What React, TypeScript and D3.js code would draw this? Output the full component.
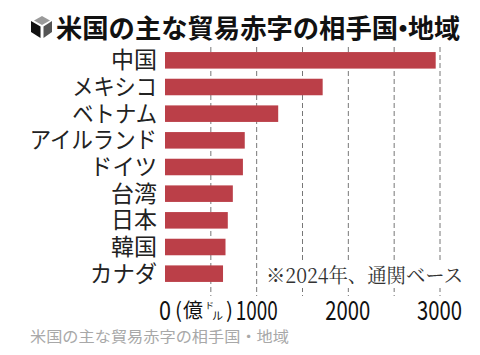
import React from "react";
import * as d3 from "d3";

const categories = ["中国", "メキシコ", "ベトナム", "アイルランド", "ドイツ", "台湾", "日本", "韓国", "カナダ"];
const values = [2953, 1720, 1235, 870, 850, 740, 685, 660, 633];
const gridValues = [500, 1000, 1500, 2000, 2500, 3000];
const tickValues = [1000, 2000, 3000];
const titleMain = "米国の主な貿易赤字の相手国";
const titleDot = "・";
const titleEnd = "地域";
const noteText = "※2024年、通関ベース";
const captionText = "米国の主な貿易赤字の相手国・地域";

const jp = "'Noto Sans CJK JP', sans-serif";
const labelWidth = (c: string) => (/^[\u30a0-\u30ff]+$/.test(c) ? c.length * (c.length === 3 ? 22.3 : 21.2) : c.length * 23);

export default function App() {
  const x = d3.scaleLinear().domain([0, 3000]).range([165, 440]);
  const y = d3.scaleBand<string>().domain(categories).range([47, 287]).paddingInner(0.38).paddingOuter(0.19);
  return (
    <svg width={480} height={355} viewBox="0 0 480 355" style={{ position: "absolute", left: 0, top: 0, background: "#fff" }}>
      <g>
        <polygon points="42,16 50,20.5 42,25 34,20.5" fill="#9a9a9a" />
        <polygon points="31,21 40.5,26.5 40.5,38 31,32" fill="#111" />
        <polygon points="52,21 43.5,26.5 43.5,38 52,32" fill="#555" />
      </g>
      <text x={56} y={38} fontFamily={jp} fontWeight={700} fontSize={26.5} fill="#111" textLength={342} lengthAdjust="spacingAndGlyphs">{titleMain}</text>
      <text x={403} y={38} textAnchor="middle" fontFamily={jp} fontWeight={700} fontSize={26.5} fill="#111">{titleDot}</text>
      <text x={408} y={38} fontFamily={jp} fontWeight={700} fontSize={26.5} fill="#111" textLength={52} lengthAdjust="spacingAndGlyphs">{titleEnd}</text>
      {gridValues.map((v) => (
        <line key={v} x1={x(v)} x2={x(v)} y1={47} y2={296} stroke="#777" strokeWidth={1} strokeDasharray="5 3" />
      ))}
      {categories.map((c, i) => (
        <g key={c}>
          <rect x={x(0)} y={y(c)!} width={x(values[i]) - x(0)} height={y.bandwidth()} fill="#bb3f48" />
          <text x={157 - labelWidth(c)} y={y(c)! + y.bandwidth() / 2 + 8} fontFamily={jp} fontSize={23} fill="#222" textLength={labelWidth(c)} lengthAdjust="spacingAndGlyphs">{c}</text>
        </g>
      ))}
      <rect x={262} y={261} width={205} height={27} fill="#fff" />
      <text x={266} y={283} fontFamily="'Noto Serif CJK JP', 'Noto Sans CJK JP', serif" fontSize={20} fill="#333" textLength={197} lengthAdjust="spacingAndGlyphs">{noteText}</text>
      <text x={159} y={320} fontFamily={jp} fontSize={27} fill="#111" textLength={12} lengthAdjust="spacingAndGlyphs">0</text>
      <text x={175} y={318} fontFamily={jp} fontSize={21} fill="#111" textLength={7} lengthAdjust="spacingAndGlyphs">(</text>
      <text x={183} y={318} fontFamily={jp} fontSize={20} fill="#111">億</text>
      <text x={205} y={309} fontFamily={jp} fontSize={9} fill="#111">ド</text>
      <text x={212} y={320} fontFamily={jp} fontSize={11} fill="#111">ル</text>
      <text x={226} y={318} fontFamily={jp} fontSize={21} fill="#111" textLength={7} lengthAdjust="spacingAndGlyphs">)</text>
      {tickValues.map((v) => (
        <text key={v} x={x(v) - (v === 1000 ? 21 : 23)} y={320} fontFamily={jp} fontSize={27} fill="#111" textLength={v === 1000 ? 42 : 45} lengthAdjust="spacingAndGlyphs">{v}</text>
      ))}
      <text x={30} y={342} fontFamily={jp} fontSize={15} fill="#a8a8a8" textLength={259} lengthAdjust="spacingAndGlyphs">{captionText}</text>
    </svg>
  );
}
